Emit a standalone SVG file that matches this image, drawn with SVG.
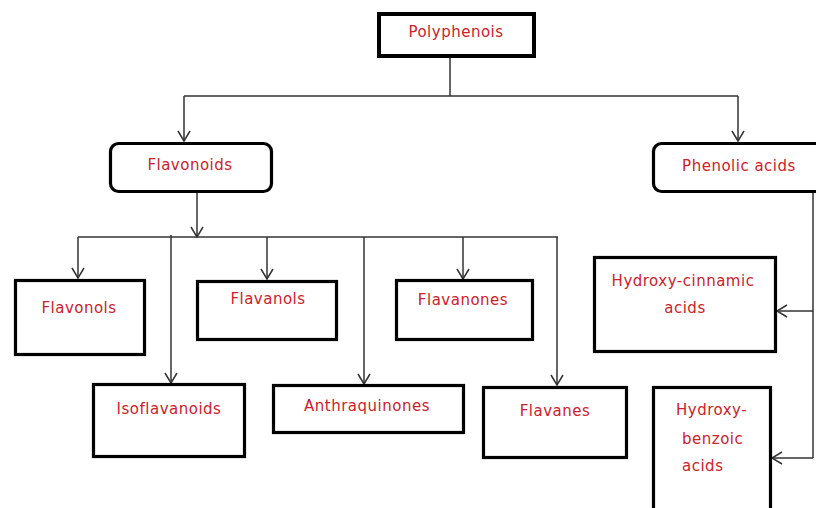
<svg xmlns="http://www.w3.org/2000/svg" width="816" height="508" viewBox="0 0 816 508">
<style>
.box{fill:#fff;stroke:#000;stroke-width:3.2}
.thick{stroke-width:4}
.lbl{font-family:"DejaVu Sans",sans-serif;font-size:15px;letter-spacing:0.5px;fill:#d0202a;text-anchor:middle}
.st{text-anchor:start}
.con path{fill:none;stroke:#333;stroke-width:1.5}
</style>
<defs>
<marker id="ah" markerUnits="userSpaceOnUse" markerWidth="14" markerHeight="14" viewBox="-12 -7 14 14" refX="0" refY="0" orient="auto">
<path d="M-10,-6 L0,0 L-10,6" fill="none" stroke="#333" stroke-width="1.5"/>
</marker>
</defs>
<rect width="816" height="508" fill="#fff"/>
<g class="con">
<path d="M450 58 V96"/>
<path d="M184 96 H738"/>
<path d="M184 96 V141" marker-end="url(#ah)"/>
<path d="M738 96 V141" marker-end="url(#ah)"/>
<path d="M197 192 V237" marker-end="url(#ah)"/>
<path d="M78 237 H558"/>
<path d="M78 237 V278" marker-end="url(#ah)"/>
<path d="M267 237 V279" marker-end="url(#ah)"/>
<path d="M463 237 V279" marker-end="url(#ah)"/>
<path d="M171 235 V383" marker-end="url(#ah)"/>
<path d="M364 237 V384" marker-end="url(#ah)"/>
<path d="M557 237 V385" marker-end="url(#ah)"/>
<path d="M813 193 V458"/>
<path d="M813 311 H777" marker-end="url(#ah)"/>
<path d="M813 458 H772" marker-end="url(#ah)"/>
</g>
<g id="polyphenois"><rect class="box thick" x="379" y="14" width="155" height="42"/><text class="lbl" x="456" y="37">Polyphenois</text></g>
<g id="flavonoids"><rect class="box" x="110.5" y="143.5" width="161" height="48" rx="8"/><text class="lbl" x="190" y="170">Flavonoids</text></g>
<g id="phenolic"><rect class="box" x="653.5" y="143.5" width="170" height="48" rx="8"/><text class="lbl" x="739" y="171">Phenolic acids</text></g>
<g id="flavonols"><rect class="box" x="15.5" y="280.5" width="129" height="74"/><text class="lbl" x="79" y="313">Flavonols</text></g>
<g id="flavanols"><rect class="box" x="197.5" y="281.5" width="139" height="58"/><text class="lbl" x="268" y="304">Flavanols</text></g>
<g id="flavanones"><rect class="box" x="396.5" y="280.5" width="136" height="59"/><text class="lbl" x="463" y="305">Flavanones</text></g>
<g id="isoflavanoids"><rect class="box" x="93.5" y="384.5" width="151" height="72"/><text class="lbl" x="169" y="414">Isoflavanoids</text></g>
<g id="anthraquinones"><rect class="box" x="273.5" y="385.5" width="190" height="47"/><text class="lbl" x="367" y="411">Anthraquinones</text></g>
<g id="flavanes"><rect class="box" x="483.5" y="387.5" width="143" height="70"/><text class="lbl" x="555" y="416">Flavanes</text></g>
<g id="hydroxycinnamic"><rect class="box" x="594.5" y="257.5" width="181" height="94"/><text class="lbl" x="683" y="286">Hydroxy-cinnamic</text><text class="lbl" x="685" y="313">acids</text></g>
<g id="hydroxybenzoic"><rect class="box" x="653.5" y="387.5" width="117" height="130"/><text class="lbl st" x="676" y="415">Hydroxy-</text><text class="lbl st" x="682" y="444">benzoic</text><text class="lbl st" x="682" y="471">acids</text></g>
</svg>
